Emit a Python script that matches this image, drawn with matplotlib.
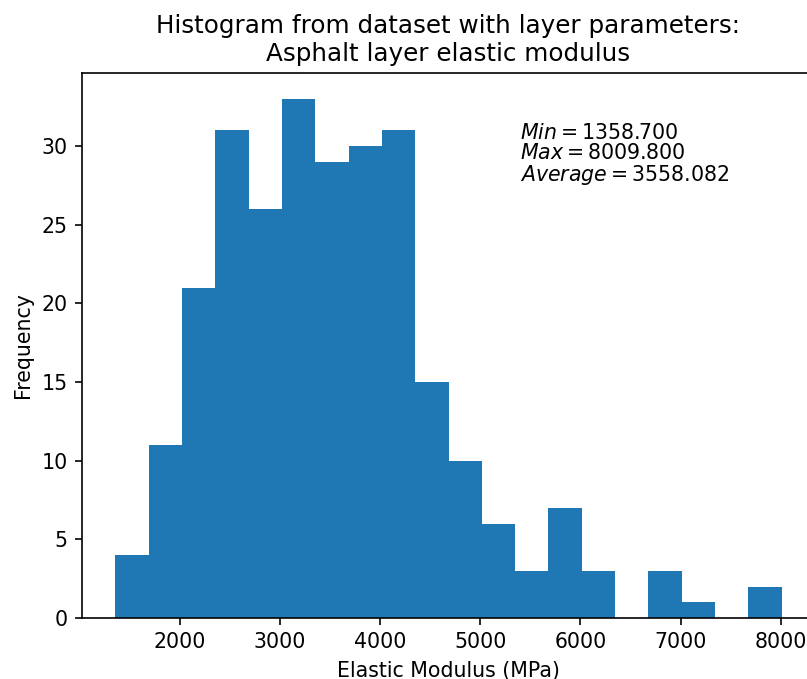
import matplotlib
matplotlib.use("Agg")
import matplotlib.pyplot as plt
import numpy as np

# layer parameter summary
mod_min = 1358.7
mod_max = 8009.8
mod_avg = 3558.082

# counts per bin (20 equal bins between min and max)
counts = [4, 11, 21, 31, 26, 33, 29, 30, 31, 15, 10, 6, 3, 7, 3, 0, 3, 1, 0, 2]

edges = np.linspace(mod_min, mod_max, len(counts) + 1)
centers = (edges[:-1] + edges[1:]) / 2

dpi = 148
fig = plt.figure(figsize=(807/dpi, 679/dpi), dpi=dpi)
# axes runs a little past the right edge of the canvas
ax = fig.add_axes([82/807, 1 - 618/679, 733/807, 545/679])

ax.hist(centers, bins=edges, weights=counts, color="#1f77b4")

ax.spines["right"].set_visible(False)
ax.set_title("Histogram from dataset with layer parameters:\nAsphalt layer elastic modulus")
ax.set_xlabel("Elastic Modulus (MPa)")
ax.set_ylabel("Frequency")

txt = "$Min = %.3f$\n$Max = %.3f$\n$Average = %.3f$" % (mod_min, mod_max, mod_avg)
ax.text(0.598, 0.908, txt, transform=ax.transAxes, va="top", ha="left",
        linespacing=1.0)

fig.savefig("out.png", dpi=dpi)
